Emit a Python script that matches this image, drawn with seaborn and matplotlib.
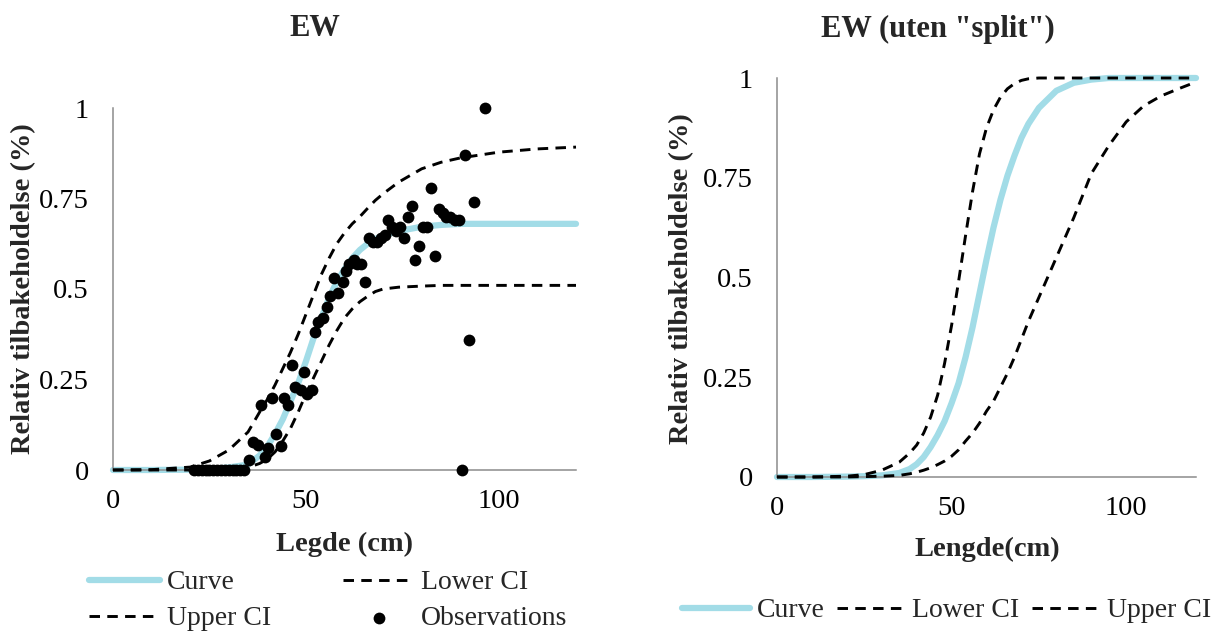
import matplotlib
matplotlib.use("Agg")
import matplotlib.pyplot as plt
import seaborn as sns

# ---------------- data: left panel "EW" ----------------
left_len = [0, 10, 20, 25, 30, 35, 38, 40, 42, 44, 46, 48, 50, 52, 54, 56, 58, 60,
            62, 64, 66, 68, 70, 74, 80, 85, 90, 100, 110, 120]
left_curve = [0, 0, 0.001, 0.003, 0.007, 0.015, 0.04, 0.065, 0.10, 0.14, 0.19, 0.24,
              0.30, 0.365, 0.42, 0.475, 0.52, 0.555, 0.585, 0.608, 0.625, 0.638, 0.648,
              0.66, 0.672, 0.677, 0.68, 0.68, 0.68, 0.68]
left_upper = [0, 0.001, 0.008, 0.025, 0.055, 0.105, 0.16, 0.195, 0.235, 0.28, 0.325,
              0.375, 0.43, 0.485, 0.54, 0.585, 0.625, 0.655, 0.68, 0.70, 0.723, 0.745,
              0.763, 0.795, 0.832, 0.85, 0.862, 0.878, 0.887, 0.892]
left_lower = [0, 0, 0, 0, 0.002, 0.007, 0.018, 0.03, 0.05, 0.08, 0.115, 0.16, 0.21,
              0.255, 0.30, 0.345, 0.385, 0.42, 0.445, 0.465, 0.48, 0.493, 0.5, 0.505,
              0.508, 0.51, 0.51, 0.51, 0.51, 0.51]

obs_len = [21, 22, 23, 24, 25, 26, 27, 28, 29, 30, 31, 32, 33, 34,
           35.3, 36.3, 37.5, 38.3, 39.3, 40.3, 41.3, 42.3, 43.5, 44.3,
           45.3, 46.5, 47.3, 48.8, 49.5, 50.2, 51.5, 52.4, 53.2, 54.5,
           55.4, 56.2, 57.4, 58.4, 59.5, 60.4, 61.2, 62.4, 63.2, 64.4,
           65.4, 66.4, 67.4, 68.5, 69.5, 70.4, 71.4, 72.3, 73.4, 74.4,
           75.4, 76.4, 77.4, 78.4, 79.4, 80.4, 81.4, 82.4, 83.4, 84.4,
           85.6, 86.4, 87.4, 88.6, 89.6, 90.5, 91.3, 92.3, 93.5, 96.5]
obs_ret = [0, 0, 0, 0, 0, 0, 0, 0, 0, 0, 0, 0, 0, 0,
           0.028, 0.076, 0.069, 0.18, 0.036, 0.061, 0.20, 0.10, 0.067, 0.20,
           0.18, 0.29, 0.23, 0.22, 0.27, 0.21, 0.22, 0.38, 0.41, 0.42,
           0.45, 0.48, 0.53, 0.49, 0.52, 0.55, 0.57, 0.58, 0.57, 0.57,
           0.52, 0.64, 0.63, 0.63, 0.64, 0.65, 0.69, 0.67, 0.66, 0.67,
           0.64, 0.70, 0.73, 0.58, 0.62, 0.67, 0.67, 0.78, 0.59, 0.72,
           0.71, 0.70, 0.70, 0.69, 0.69, 0.0, 0.87, 0.36, 0.74, 1.0]

# ---------------- data: right panel "EW (uten split)" ----------------
right_len = [0, 10, 20, 25, 30, 35, 38, 40, 42, 44, 46, 48, 50, 52, 54, 56, 58, 60,
             62, 64, 66, 68, 70, 72, 75, 80, 85, 90, 95, 100, 105, 110, 115, 120]
right_curve = [0, 0, 0.001, 0.002, 0.004, 0.01, 0.02, 0.032, 0.05, 0.075, 0.105, 0.14,
               0.185, 0.235, 0.30, 0.375, 0.46, 0.545, 0.625, 0.695, 0.755, 0.805, 0.85,
               0.885, 0.925, 0.968, 0.988, 0.996, 1, 1, 1, 1, 1, 1]
right_upper = [0, 0, 0.002, 0.006, 0.017, 0.037, 0.06, 0.08, 0.11, 0.15, 0.205, 0.285,
               0.38, 0.49, 0.605, 0.715, 0.81, 0.875, 0.92, 0.952, 0.973, 0.986, 0.994,
               0.998, 1, 1, 1, 1, 1, 1, 1, 1, 1, 1]
right_lower = [0, 0, 0, 0.001, 0.002, 0.004, 0.008, 0.012, 0.017, 0.023, 0.031, 0.04,
               0.052, 0.068, 0.09, 0.11, 0.135, 0.165, 0.19, 0.225, 0.26, 0.30, 0.345,
               0.39, 0.45, 0.55, 0.65, 0.76, 0.83, 0.89, 0.93, 0.955, 0.973, 0.99]

x_ticks = [0, 50, 100]
y_ticks = [0, 0.25, 0.5, 0.75, 1]
y_ticklabels = ["0", "0.25", "0.5", "0.75", "1"]

# ---------------- style ----------------
sns.set_style("white")
plt.rcParams["font.family"] = ["Liberation Serif", "DejaVu Serif"]

CURVE_COLOR = "#A2DCE7"
AXIS_GRAY = "#8C8C8C"
DASH = (0, (3.6, 2.5))
TICK_FS = 20.5
LEG_FS = 20
LAB_FS = 20.5
TITLE_FS = 22

W, H = 1212, 634
fig = plt.figure(figsize=(W / 100, H / 100), dpi=100)
axL = fig.add_axes([113 / W, 1 - 470 / H, 463 / W, 362 / H])
axR = fig.add_axes([777 / W, 1 - 477 / H, 419 / W, 399 / H])


def style_axis(ax):
    ax.set_xlim(0, 120)
    ax.set_ylim(0, 1)
    ax.set_xticks(x_ticks)
    ax.set_xticklabels([str(t) for t in x_ticks])
    ax.set_yticks(y_ticks)
    ax.set_yticklabels(y_ticklabels)
    sns.despine(ax=ax)
    for s in ("left", "bottom"):
        ax.spines[s].set_color(AXIS_GRAY)
        ax.spines[s].set_linewidth(1.1)
    ax.tick_params(axis="both", direction="out", length=6.5, width=1.1,
                   color=AXIS_GRAY, labelsize=TICK_FS, labelcolor="black")
    ax.tick_params(axis="y", pad=11)
    ax.tick_params(axis="x", pad=7)
    ax.set_xlabel("")
    ax.set_ylabel("")
    ax.grid(False)


# ---- left panel ----
sns.lineplot(x=left_len, y=left_upper, ax=axL, color="black", linewidth=2.1,
             linestyle=DASH, label="Upper CI", clip_on=False, zorder=3)
sns.lineplot(x=left_len, y=left_lower, ax=axL, color="black", linewidth=2.1,
             linestyle=DASH, label="Lower CI", clip_on=False, zorder=3)
sns.lineplot(x=left_len, y=left_curve, ax=axL, color=CURVE_COLOR, linewidth=4.5,
             label="Curve", clip_on=False, zorder=2)
sns.scatterplot(x=obs_len, y=obs_ret, ax=axL, color="black", s=72, linewidth=0,
                label="Observations", clip_on=False, zorder=4)
style_axis(axL)

# ---- right panel ----
sns.lineplot(x=right_len, y=right_upper, ax=axR, color="black", linewidth=2.1,
             linestyle=DASH, label="Upper CI", clip_on=False, zorder=3)
sns.lineplot(x=right_len, y=right_lower, ax=axR, color="black", linewidth=2.1,
             linestyle=DASH, label="Lower CI", clip_on=False, zorder=3)
sns.lineplot(x=right_len, y=right_curve, ax=axR, color=CURVE_COLOR, linewidth=4.5,
             label="Curve", clip_on=False, zorder=2)
style_axis(axR)

# ---- legends ----
def collect(ax):
    h, l = ax.get_legend_handles_labels()
    if ax.get_legend() is not None:
        ax.get_legend().remove()
    return dict(zip(l, h))

hl = collect(axL)
hr = collect(axR)

orderL = ["Curve", "Upper CI", "Lower CI", "Observations"]
fig.legend([hl[k] for k in orderL], orderL, ncol=2, loc="upper left",
           bbox_to_anchor=(89 / W, 1 - 570 / H), frameon=False, fontsize=LEG_FS,
           handlelength=2.55, handletextpad=0.25, columnspacing=2.6,
           labelspacing=0.38, borderpad=0, borderaxespad=0, scatterpoints=1)

orderR = ["Curve", "Lower CI", "Upper CI"]
fig.legend([hr[k] for k in orderR], orderR, ncol=3, loc="upper left",
           bbox_to_anchor=(682 / W, 1 - 598 / H), frameon=False, fontsize=LEG_FS,
           handlelength=2.45, handletextpad=0.25, columnspacing=0.45,
           borderpad=0, borderaxespad=0)

# ---- titles and axis labels ----
fig.text(315 / W, 1 - 28 / H, "EW", ha="center", va="center",
         fontsize=TITLE_FS, fontweight="bold")
fig.text(938 / W, 1 - 29 / H, 'EW (uten "split")', ha="center", va="center",
         fontsize=TITLE_FS, fontweight="bold")
fig.text(345 / W, 1 - 544 / H, "Legde (cm)", ha="center", va="center",
         fontsize=LAB_FS, fontweight="bold")
fig.text(987 / W, 1 - 549 / H, "Lengde(cm)", ha="center", va="center",
         fontsize=LAB_FS, fontweight="bold")
fig.text(24 / W, 1 - 289 / H, "Relativ tilbakeholdelse (%)", ha="center",
         va="center", rotation=90, fontsize=LAB_FS, fontweight="bold")
fig.text(682 / W, 1 - 279 / H, "Relativ tilbakeholdelse (%)", ha="center",
         va="center", rotation=90, fontsize=LAB_FS, fontweight="bold")

fig.savefig("out.png", dpi=100)
